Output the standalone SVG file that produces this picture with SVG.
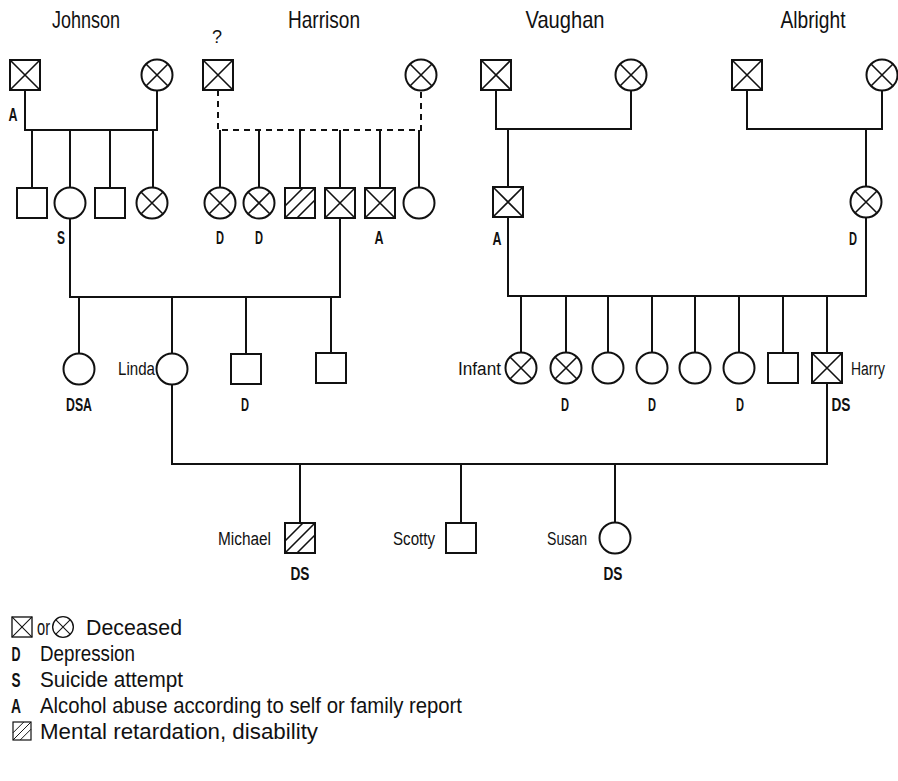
<svg xmlns="http://www.w3.org/2000/svg" width="898" height="781" viewBox="0 0 898 781">
<style>
  .ln{fill:none;stroke:#111;stroke-width:2;}
  .dash{fill:none;stroke:#111;stroke-width:2;stroke-dasharray:6 5;}
  .sym{fill:#fff;stroke:#111;stroke-width:2;}
  .x{fill:none;stroke:#111;stroke-width:1.6;}
  .t{font-family:"Liberation Sans",Arial,sans-serif;fill:#111;}
  .title{font-size:24px;text-anchor:middle;}
  .name{font-size:18px;}
  .lab{font-size:18px;font-weight:bold;text-anchor:middle;}
  .leg{font-size:22px;}
  .legb{font-size:20px;font-weight:bold;text-anchor:middle;}
</style>
<defs>
  <g id="sq"><rect class="sym" x="-15" y="-15" width="30" height="30"/></g>
  <g id="sqx"><rect class="sym" x="-15" y="-15" width="30" height="30"/><path class="x" d="M-15 -15L15 15M15 -15L-15 15"/></g>
  <g id="sqh"><rect class="sym" x="-15" y="-15" width="30" height="30"/><path class="x" d="M-15 3L3 -15M-15 15L15 -15M-3 15L15 -3"/></g>
  <g id="ci"><circle class="sym" r="15.5"/></g>
  <g id="cix"><circle class="sym" r="15.5"/><path class="x" d="M-11 -11L11 11M11 -11L-11 11"/></g>
</defs>
<rect width="898" height="781" fill="#fff"/>

<g id="titles" class="t title">
  <text x="86" y="28" textLength="68" lengthAdjust="spacingAndGlyphs">Johnson</text>
  <text x="324" y="28" textLength="72" lengthAdjust="spacingAndGlyphs">Harrison</text>
  <text x="565" y="28" textLength="79" lengthAdjust="spacingAndGlyphs">Vaughan</text>
  <text x="813" y="28" textLength="65" lengthAdjust="spacingAndGlyphs">Albright</text>
</g>

<g id="connectors">
  <path class="ln" d="M25 90V130H157V90.5"/>
  <path class="ln" d="M32 130V188M70 130V187.5M110 130V188M153 130V187.5"/>
  <path class="dash" d="M218 90V130H421V90.5"/>
  <path class="ln" d="M220 130V187.5M259 130V187.5M300 130V188M340 130V188M380 130V188M419 130V187.5"/>
  <path class="ln" d="M496 90V129H631V90.5"/>
  <path class="ln" d="M508 129V187"/>
  <path class="ln" d="M747 90V129H882V90.5"/>
  <path class="ln" d="M866 129V186.5"/>
  <path class="ln" d="M70 218.5V297H340V218"/>
  <path class="ln" d="M79 297V353.5M172 297V353.5M246 297V354M331 297V353"/>
  <path class="ln" d="M508 217V296H866V217.5"/>
  <path class="ln" d="M521 296V352.5M566 296V352.5M608 296V352.5M652 296V352.5M695 296V352.5M739 296V352.5M783 296V353M827 296V353"/>
  <path class="ln" d="M172 384.5V464H827V383"/>
  <path class="ln" d="M300 464V523M461 464V523M615 464V522.5"/>
</g>

<g id="johnson-father"><use href="#sqx" x="25" y="75"/><text class="t lab" x="13" y="121" textLength="9" lengthAdjust="spacingAndGlyphs">A</text></g>
<g id="johnson-mother"><use href="#cix" x="157" y="75"/></g>
<g id="harrison-father"><use href="#sqx" x="218" y="75"/><text class="t" x="217" y="43" font-size="18" text-anchor="middle">?</text></g>
<g id="harrison-mother"><use href="#cix" x="421" y="75"/></g>
<g id="vaughan-father"><use href="#sqx" x="496" y="75"/></g>
<g id="vaughan-mother"><use href="#cix" x="631" y="75"/></g>
<g id="albright-father"><use href="#sqx" x="747" y="75"/></g>
<g id="albright-mother"><use href="#cix" x="882" y="75"/></g>

<g id="j-child1"><use href="#sq" x="32" y="203"/></g>
<g id="j-child2"><use href="#ci" x="70" y="203"/><text class="t lab" x="61" y="244" textLength="8" lengthAdjust="spacingAndGlyphs">S</text></g>
<g id="j-child3"><use href="#sq" x="110" y="203"/></g>
<g id="j-child4"><use href="#cix" x="152" y="203"/></g>

<g id="h-child1"><use href="#cix" x="220" y="203"/><text class="t lab" x="220" y="244" textLength="8" lengthAdjust="spacingAndGlyphs">D</text></g>
<g id="h-child2"><use href="#cix" x="259" y="203"/><text class="t lab" x="259" y="244" textLength="8" lengthAdjust="spacingAndGlyphs">D</text></g>
<g id="h-child3"><use href="#sqh" x="300" y="203"/></g>
<g id="h-child4"><use href="#sqx" x="340" y="203"/></g>
<g id="h-child5"><use href="#sqx" x="380" y="203"/><text class="t lab" x="379" y="244" textLength="9" lengthAdjust="spacingAndGlyphs">A</text></g>
<g id="h-child6"><use href="#ci" x="419" y="203"/></g>

<g id="vaughan-son"><use href="#sqx" x="508" y="202"/><text class="t lab" x="497" y="245" textLength="9" lengthAdjust="spacingAndGlyphs">A</text></g>
<g id="albright-daughter"><use href="#cix" x="866" y="202"/><text class="t lab" x="853" y="245" textLength="8" lengthAdjust="spacingAndGlyphs">D</text></g>

<g id="g3-1"><use href="#ci" x="79" y="369"/><text class="t lab" x="79" y="411" textLength="26" lengthAdjust="spacingAndGlyphs">DSA</text></g>
<g id="linda"><use href="#ci" x="172" y="369"/><text class="t name" x="155" y="375" text-anchor="end" textLength="37" lengthAdjust="spacingAndGlyphs">Linda</text></g>
<g id="g3-3"><use href="#sq" x="246" y="369"/><text class="t lab" x="245" y="411" textLength="8" lengthAdjust="spacingAndGlyphs">D</text></g>
<g id="g3-4"><use href="#sq" x="331" y="368"/></g>

<g id="infant"><use href="#cix" x="521" y="368"/><text class="t name" x="501" y="375" text-anchor="end" textLength="43" lengthAdjust="spacingAndGlyphs">Infant</text></g>
<g id="v-2"><use href="#cix" x="566" y="368"/><text class="t lab" x="565" y="411" textLength="8" lengthAdjust="spacingAndGlyphs">D</text></g>
<g id="v-3"><use href="#ci" x="608" y="368"/></g>
<g id="v-4"><use href="#ci" x="652" y="368"/><text class="t lab" x="652" y="411" textLength="8" lengthAdjust="spacingAndGlyphs">D</text></g>
<g id="v-5"><use href="#ci" x="695" y="368"/></g>
<g id="v-6"><use href="#ci" x="739" y="368"/><text class="t lab" x="740" y="411" textLength="8" lengthAdjust="spacingAndGlyphs">D</text></g>
<g id="v-7"><use href="#sq" x="783" y="368"/></g>
<g id="harry"><use href="#sqx" x="827" y="368"/><text class="t name" x="851" y="375" textLength="34" lengthAdjust="spacingAndGlyphs">Harry</text><text class="t lab" x="841" y="411" textLength="19" lengthAdjust="spacingAndGlyphs">DS</text></g>

<g id="michael"><use href="#sqh" x="300" y="538"/><text class="t name" x="271" y="545" text-anchor="end" textLength="53" lengthAdjust="spacingAndGlyphs">Michael</text><text class="t lab" x="300" y="580" textLength="19" lengthAdjust="spacingAndGlyphs">DS</text></g>
<g id="scotty"><use href="#sq" x="461" y="538"/><text class="t name" x="435" y="545" text-anchor="end" textLength="42" lengthAdjust="spacingAndGlyphs">Scotty</text></g>
<g id="susan"><use href="#ci" x="615" y="538"/><text class="t name" x="587" y="545" text-anchor="end" textLength="40" lengthAdjust="spacingAndGlyphs">Susan</text><text class="t lab" x="613" y="580" textLength="19" lengthAdjust="spacingAndGlyphs">DS</text></g>

<g id="legend">
  <g transform="translate(22 627) scale(0.667)"><use href="#sqx"/></g>
  <text class="t leg" x="37" y="635" textLength="13" lengthAdjust="spacingAndGlyphs">or</text>
  <g transform="translate(63 627) scale(0.667)"><use href="#cix"/></g>
  <text class="t leg" x="86" y="635" textLength="96" lengthAdjust="spacingAndGlyphs">Deceased</text>
  <text class="t legb" x="16" y="661" textLength="9" lengthAdjust="spacingAndGlyphs">D</text>
  <text class="t leg" x="40" y="661" textLength="95" lengthAdjust="spacingAndGlyphs">Depression</text>
  <text class="t legb" x="16" y="687" textLength="9" lengthAdjust="spacingAndGlyphs">S</text>
  <text class="t leg" x="40" y="687" textLength="143" lengthAdjust="spacingAndGlyphs">Suicide attempt</text>
  <text class="t legb" x="16" y="713" textLength="10" lengthAdjust="spacingAndGlyphs">A</text>
  <text class="t leg" x="40" y="713" textLength="422" lengthAdjust="spacingAndGlyphs">Alcohol abuse according to self or family report</text>
  <g transform="translate(22 731) scale(0.6)"><use href="#sqh"/></g>
  <text class="t leg" x="40" y="739" textLength="278" lengthAdjust="spacingAndGlyphs">Mental retardation, disability</text>
</g>
</svg>
